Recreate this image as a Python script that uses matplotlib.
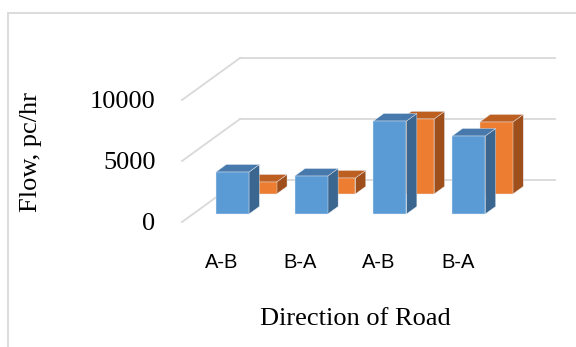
import matplotlib.pyplot as plt
from matplotlib.lines import Line2D
from matplotlib.patches import Polygon

# Traffic flow by direction, two series per category
categories = ["A-B", "B-A", "A-B", "B-A"]
flow_front = [3440, 3110, 7620, 6390]   # blue series (front row)
flow_back = [980, 1310, 6150, 5900]     # orange series (back row)
y_ticks = [0, 5000, 10000]

# Oblique 3-D look: one unit of depth shifts things right/up on screen
DX = 0.7365   # category units per depth unit
DY = 3443.0   # flow units per depth unit
BAR_W = 0.42
BAR_D = 0.18

BLUE = ("#5B9BD5", "#4879AC", "#3B6690")     # front, top, side
ORANGE = ("#ED7D31", "#BE5F22", "#9E4F1B")
GRID = "#D9D9D9"


def proj(x, y, d):
    return (x + d * DX, y + d * DY)


def draw_bar(ax, xc, h, d0, colors, z):
    x0, x1 = xc - BAR_W / 2, xc + BAR_W / 2
    d1 = d0 + BAR_D
    front = [proj(x0, 0, d0), proj(x1, 0, d0), proj(x1, h, d0), proj(x0, h, d0)]
    top = [proj(x0, h, d0), proj(x1, h, d0), proj(x1, h, d1), proj(x0, h, d1)]
    side = [proj(x1, 0, d0), proj(x1, h, d0), proj(x1, h, d1), proj(x1, 0, d1)]
    for pts, c in [(side, colors[2]), (top, colors[1]), (front, colors[0])]:
        ax.add_patch(Polygon(pts, closed=True, facecolor=c, edgecolor="#E8EEF5",
                             linewidth=0.3, zorder=z, clip_on=False))


fig = plt.figure(figsize=(5.76, 3.47), dpi=100)
ax = fig.add_axes([182 / 576, 1 - 222 / 347, 315 / 576, 122 / 347])
ax.set_xlim(-0.5, 3.5)
ax.set_ylim(0, 10000)
for s in ax.spines.values():
    s.set_visible(False)
ax.patch.set_visible(False)

# Back wall gridlines and left-side diagonals
for v in y_ticks:
    bx0, by = proj(-0.5, v, 1.0)
    bx1, _ = proj(3.5, v, 1.0)
    ax.plot([bx0, bx1], [by, by], color=GRID, lw=1.3, zorder=1, clip_on=False)
    fx, fy = proj(-0.5, v, 0.0)
    ax.plot([fx, bx0], [fy, by], color=GRID, lw=1.3, zorder=1, clip_on=False)

# Back row first, then front row on top
for i, v in enumerate(flow_back):
    draw_bar(ax, i, v, 0.667, ORANGE, 3)
for i, v in enumerate(flow_front):
    draw_bar(ax, i, v, 0.19, BLUE, 5)

ax.set_yticks(y_ticks)
ax.set_yticklabels([str(t) for t in y_ticks], fontfamily="Liberation Serif",
                   fontsize=19)
ax.set_xticks(range(len(categories)))
ax.set_xticklabels(categories, fontfamily="Liberation Sans", fontsize=14.5)
ax.tick_params(axis="y", length=0, pad=19)
ax.tick_params(axis="x", length=0, pad=22)

fig.text(31 / 576, 1 - 152 / 347, "Flow, pc/hr", rotation=90, ha="center",
         va="center", fontfamily="Liberation Serif", fontsize=19)
fig.text(355 / 576, 1 - 325 / 347, "Direction of Road", ha="center",
         va="baseline", fontfamily="Liberation Serif", fontsize=19)

# Chart-area border (top and left edges)
fig.add_artist(Line2D([8 / 576, 1.0], [1 - 13 / 347, 1 - 13 / 347],
                      color=GRID, lw=1.3, transform=fig.transFigure))
fig.add_artist(Line2D([8 / 576, 8 / 576], [0.0, 1 - 13 / 347],
                      color=GRID, lw=1.3, transform=fig.transFigure))

fig.savefig("out.png", dpi=100)
